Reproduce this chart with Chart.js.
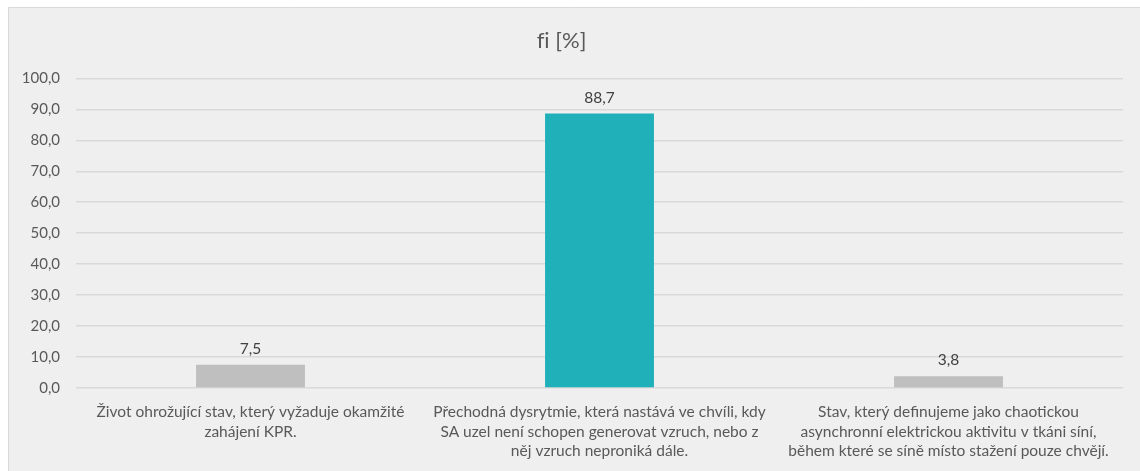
<!DOCTYPE html>
<html>
<head>
<meta charset="utf-8">
<script src="https://cdn.jsdelivr.net/npm/chart.js@4"></script>
<style>
html,body{margin:0;padding:0;background:#ffffff;}
#wrap{width:1140px;height:471px;position:relative;}
</style>
</head>
<body>
<div id="wrap"><canvas id="c" width="1140" height="471"></canvas></div>
<script>
const categories = [
  ["Život ohrožující stav, který vyžaduje okamžité", "zahájení KPR."],
  ["Přechodná dysrytmie, která nastává ve chvíli, kdy", "SA uzel není schopen generovat vzruch, nebo z", "něj vzruch neproniká dále."],
  ["Stav, který definujeme jako chaotickou", "asynchronní elektrickou aktivitu v tkáni síní,", "během které se síně místo stažení pouze chvějí."]
];
const values = [7.5, 88.7, 3.8];
const barColors = ["#bfbfbf", "#1fb0b9", "#bfbfbf"];
const yTicks = [0, 10, 20, 30, 40, 50, 60, 70, 80, 90, 100];
const titleText = "f\u200Ci [%]";

const fmt = v => v.toFixed(1).replace('.', ',');
const FONT = "Lato, 'Open Sans', sans-serif";

const bgPlugin = {
  id: 'bg',
  beforeDraw(chart) {
    const ctx = chart.ctx;
    ctx.save();
    ctx.fillStyle = '#ffffff';
    ctx.fillRect(0, 0, chart.width, chart.height);
    ctx.fillStyle = '#efefef';
    ctx.fillRect(8, 7, chart.width - 8, chart.height - 7);
    ctx.strokeStyle = '#d9d9d9';
    ctx.lineWidth = 1;
    ctx.beginPath();
    ctx.moveTo(8.5, chart.height);
    ctx.lineTo(8.5, 7.5);
    ctx.lineTo(chart.width, 7.5);
    ctx.stroke();
    ctx.restore();
  }
};

const labelPlugin = {
  id: 'vals',
  afterDatasetsDraw(chart) {
    const ctx = chart.ctx;
    const meta = chart.getDatasetMeta(0);
    ctx.save();
    ctx.font = "15.5px " + FONT;
    ctx.fillStyle = '#404040';
    ctx.textAlign = 'center';
    ctx.textBaseline = 'bottom';
    meta.data.forEach((bar, i) => {
      ctx.fillText(fmt(values[i]), bar.x, bar.y - 8);
    });
    ctx.restore();
  }
};

new Chart(document.getElementById('c'), {
  type: 'bar',
  data: {
    labels: categories,
    datasets: [{
      data: values,
      backgroundColor: barColors,
      borderWidth: 0,
      categoryPercentage: 1.0,
      barPercentage: 0.312
    }]
  },
  options: {
    responsive: false,
    animation: false,
    devicePixelRatio: 1,
    layout: { padding: { left: 0, right: 17, top: 0, bottom: 0 } },
    plugins: {
      legend: { display: false },
      tooltip: { enabled: false },
      title: {
        display: true,
        text: titleText,
        color: '#595959',
        font: { family: FONT, size: 22, weight: 'normal' },
        padding: { top: 28, bottom: 24 }
      }
    },
    scales: {
      x: {
        grid: { display: false, drawTicks: false },
        border: { display: false },
        ticks: {
          color: '#595959',
          font: { family: FONT, size: 15.5, lineHeight: 1.27 },
          maxRotation: 0,
          minRotation: 0,
          autoSkip: false,
          padding: 14
        },
        afterFit(scale) { scale.height = 83; }
      },
      y: {
        min: 0,
        max: 100,
        afterBuildTicks(scale) { scale.ticks = yTicks.map(v => ({ value: v })); },
        grid: { color: '#d9d9d9', lineWidth: 1.5, drawTicks: false },
        border: { display: false },
        ticks: {
          color: '#595959',
          font: { family: FONT, size: 15 },
          padding: 16,
          callback: v => fmt(v)
        },
        afterFit(scale) { scale.width = 76; }
      }
    }
  },
  plugins: [bgPlugin, labelPlugin]
});
</script>
</body>
</html>
